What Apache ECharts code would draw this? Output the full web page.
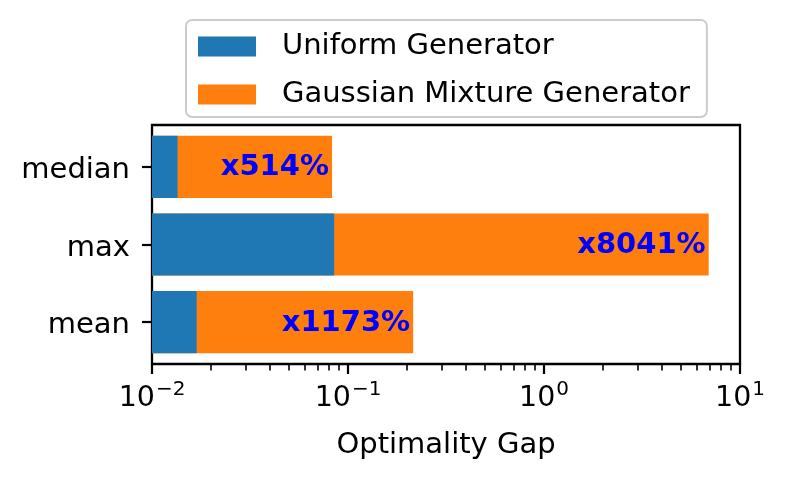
<!DOCTYPE html>
<html>
<head>
<meta charset="utf-8">
<script src="https://cdn.jsdelivr.net/npm/echarts@6/dist/echarts.min.js"></script>
<style>
html,body{margin:0;padding:0;background:#fff;}
#chart{width:788px;height:479px;}
</style>
</head>
<body>
<div id="chart"></div>
<script>
// ---- data ----
const categories = ['mean', 'max', 'median'];
const uniformGap = [0.0169, 0.085, 0.0135];
const gaussianGap = [0.215, 6.92, 0.0829];
const gainLabels = ['x1173%', 'x8041%', 'x514%'];
const xMajorTicks = [0.01, 0.1, 1, 10];
const xMinorTicks = [0.02, 0.03, 0.04, 0.05, 0.06, 0.07, 0.08, 0.09,
                     0.2, 0.3, 0.4, 0.5, 0.6, 0.7, 0.8, 0.9,
                     2, 3, 4, 5, 6, 7, 8, 9];
const seriesNames = ['Uniform Generator', 'Gaussian Mixture Generator'];

const X_MIN = 0.01, X_MAX = 10;
const BAR_HALF = 0.4;
const FONT = 'DejaVu Sans';
const BLUE = '#1f77b4', ORANGE = '#ff7f0e';

function toPairs(arr) { return arr.map((v, i) => [v, i]); }

function makeRender(color, labels) {
  return function (params, api) {
    const v = api.value(0), i = api.value(1);
    const p0 = api.coord([X_MIN, i - BAR_HALF]);
    const p1 = api.coord([v, i + BAR_HALF]);
    const y = Math.min(p0[1], p1[1]);
    const h = Math.abs(p0[1] - p1[1]);
    const children = [{
      type: 'rect',
      shape: { x: p0[0], y: y, width: p1[0] - p0[0], height: h },
      style: { fill: color }
    }];
    if (labels) {
      children.push({
        type: 'text',
        x: p1[0] - 3,
        y: y + h / 2 + 1,
        style: {
          text: labels[params.dataIndex],
          fill: '#0000ff',
          font: 'bold 29px "' + FONT + '"',
          align: 'right',
          verticalAlign: 'middle'
        }
      });
    }
    return { type: 'group', children: children };
  };
}

function logLabel(v) {
  const e = Math.round(Math.log10(v));
  const s = String(e).replace('-', '\u2212');
  return '{a|10}{b|' + s + '}';
}

const chart = echarts.init(document.getElementById('chart'), null, { renderer: 'canvas' });
chart.setOption({
  backgroundColor: '#ffffff',
  animation: false,
  textStyle: { fontFamily: FONT, color: '#000' },
  legend: {
    orient: 'vertical',
    left: 186,
    top: 20,
    padding: [11, 17, 7, 12],
    itemWidth: 58,
    itemHeight: 20,
    itemGap: 17,
    borderColor: '#cccccc',
    borderWidth: 2,
    borderRadius: 6,
    backgroundColor: '#ffffff',
    textStyle: { fontFamily: FONT, fontSize: 29, color: '#000', lineHeight: 29, padding: [2, 0, 0, 21] },
    data: seriesNames.map(n => ({ name: n, icon: 'rect' }))
  },
  grid: {
    left: 152, right: 48, top: 125, bottom: 115,
    show: true, borderColor: '#000', borderWidth: 2.3, backgroundColor: 'transparent'
  },
  xAxis: [{
    type: 'log',
    logBase: 10,
    min: X_MIN,
    max: X_MAX,
    position: 'bottom',
    name: 'Optimality Gap',
    nameLocation: 'middle',
    nameGap: 67,
    nameTextStyle: { fontFamily: FONT, fontSize: 29, color: '#000' },
    axisLine: { show: false, onZero: false },
    splitLine: { show: false },
    minorTick: { show: false },
    axisTick: { show: true, length: 10, lineStyle: { color: '#000', width: 2.2 }, customValues: xMajorTicks },
    axisLabel: {
      customValues: xMajorTicks,
      margin: 16,
      color: '#000',
      formatter: logLabel,
      rich: {
        a: { fontFamily: FONT, fontSize: 28.5, color: '#000', verticalAlign: 'bottom' },
        b: { fontFamily: FONT, fontSize: 20, color: '#000', verticalAlign: 'bottom', padding: [0, 0, 13, 1] }
      }
    }
  }, {
    type: 'log',
    logBase: 10,
    min: X_MIN,
    max: X_MAX,
    position: 'bottom',
    axisLine: { show: false, onZero: false },
    splitLine: { show: false },
    axisLabel: { show: false },
    axisTick: { show: true, length: 6.5, lineStyle: { color: '#000', width: 1.6 }, customValues: xMinorTicks }
  }],
  yAxis: {
    type: 'value',
    min: -0.54,
    max: 2.54,
    position: 'left',
    axisLine: { show: false, onZero: false },
    splitLine: { show: false },
    axisTick: { show: true, length: 10, lineStyle: { color: '#000', width: 2.2 }, customValues: [0, 1, 2] },
    axisLabel: {
      customValues: [0, 1, 2],
      margin: 22,
      color: '#000',
      formatter: v => '{c|' + categories[Math.round(v)] + '}',
      rich: {
        c: { fontFamily: FONT, fontSize: 29, color: '#000', padding: [7, 0, 0, 0] }
      }
    }
  },
  series: [{
    name: seriesNames[0],
    type: 'custom',
    xAxisIndex: 0,
    yAxisIndex: 0,
    z: 3,
    itemStyle: { color: BLUE },
    encode: { x: 0, y: 1 },
    clip: true,
    renderItem: makeRender(BLUE, null),
    data: toPairs(uniformGap)
  }, {
    name: seriesNames[1],
    type: 'custom',
    xAxisIndex: 0,
    yAxisIndex: 0,
    z: 2,
    itemStyle: { color: ORANGE },
    encode: { x: 0, y: 1 },
    clip: true,
    renderItem: makeRender(ORANGE, gainLabels),
    data: toPairs(gaussianGap)
  }]
});
</script>
</body>
</html>
